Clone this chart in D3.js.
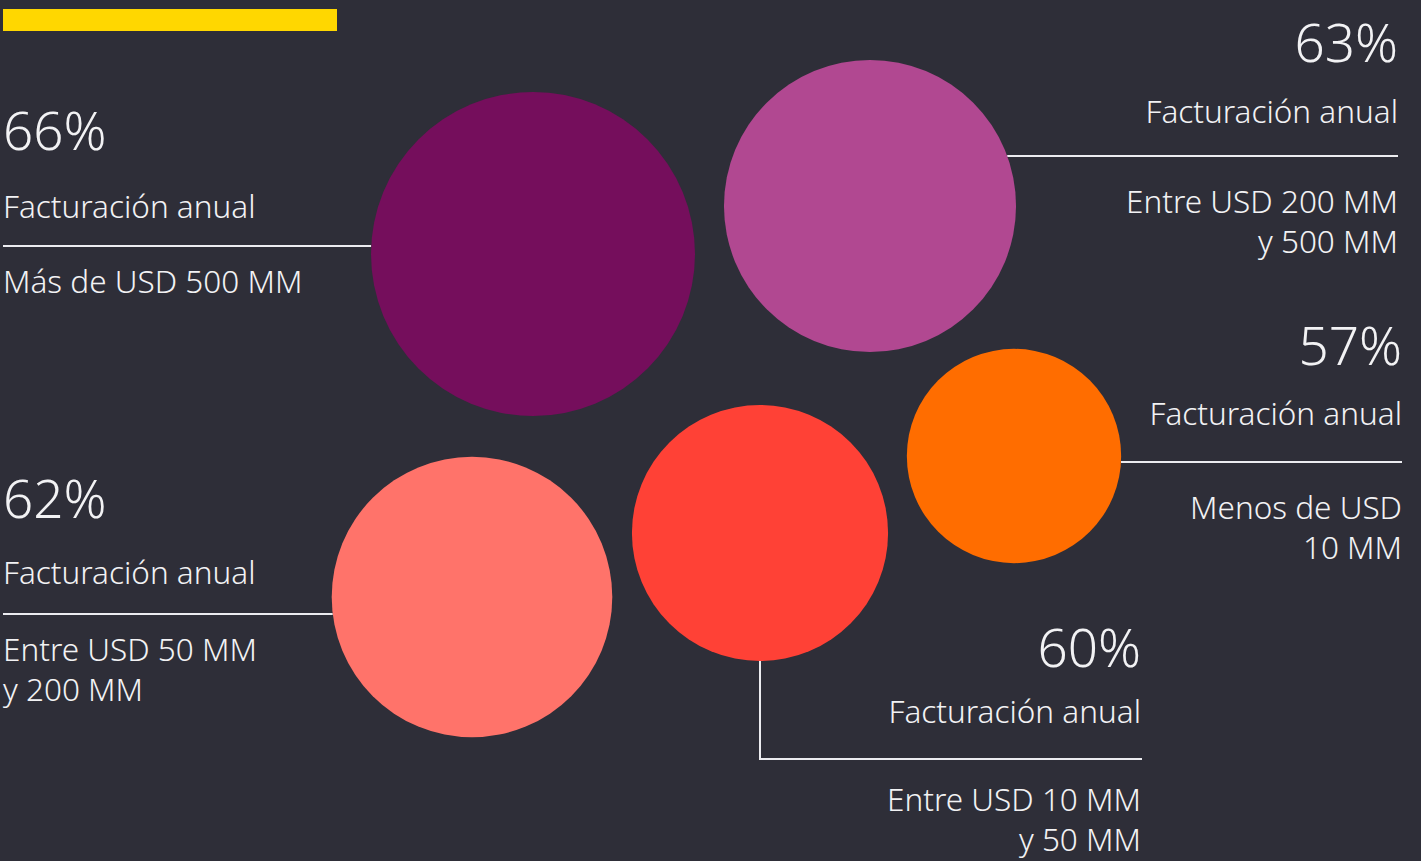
<!DOCTYPE html>
<html>
<head>
<meta charset="utf-8">
<script src="https://cdn.jsdelivr.net/npm/d3@7"></script>
<style>
  html, body { margin: 0; padding: 0; background: #2e2e38; overflow: hidden; }
  svg { display: block; }
  text { font-family: "Noto Sans", "Open Sans", sans-serif; fill: #f2f2f4; }
</style>
</head>
<body>
<svg id="chart" width="1421" height="861"></svg>
<script>
// Share of companies by annual revenue band
const shares   = [66, 63, 57, 62, 60];
const headings = ["Facturación anual", "Facturación anual", "Facturación anual", "Facturación anual", "Facturación anual"];
const bands    = [
  ["Más de USD 500 MM"],
  ["Entre USD 200 MM", "y 500 MM"],
  ["Menos de USD", "10 MM"],
  ["Entre USD 50 MM", "y 200 MM"],
  ["Entre USD 10 MM", "y 50 MM"]
];
const colors   = ["#750e5c", "#b14891", "#ff6d00", "#ff736a", "#ff4136"];

// Layout: bubble centres, callout rule and text anchoring for each band
const layout = [
  { cx: 533,  cy: 254, side: "left",  tx: 3,    ruleY: 246, pctY: 150, headY: 218, subY: 293 },
  { cx: 870,  cy: 206, side: "right", tx: 1398, ruleY: 156, pctY: 62,  headY: 123, subY: 213 },
  { cx: 1014, cy: 456, side: "right", tx: 1402, ruleY: 462, pctY: 365, headY: 425, subY: 519 },
  { cx: 472,  cy: 597, side: "left",  tx: 3,    ruleY: 614, pctY: 518, headY: 584, subY: 661 },
  { cx: 760,  cy: 533, side: "below", tx: 1141, ruleY: 759, pctY: 667, headY: 723, subY: 811 }
];

const data = shares.map((v, i) => ({
  value: v, heading: headings[i], band: bands[i], color: colors[i], pos: layout[i]
}));

const svg = d3.select("#chart");

// Bubble area proportional to share above a 50% baseline
const r = d3.scaleRadial().domain([50, 66]).range([0, 162]);

// Yellow accent bar
svg.append("rect").attr("x", 3).attr("y", 9).attr("width", 334).attr("height", 22).attr("fill", "#ffd700");

const lineColor = "#ececf0";

// Callout rules, from the bubble edge to the text column
data.forEach(d => {
  const p = d.pos, rad = r(d.value);
  let path;
  if (p.side === "left") {
    path = `M${p.tx},${p.ruleY}H${p.cx - Math.sqrt(rad * rad - (p.ruleY - p.cy) ** 2)}`;
  } else if (p.side === "right") {
    path = `M${p.cx + Math.sqrt(rad * rad - (p.ruleY - p.cy) ** 2)},${p.ruleY}H${p.tx}`;
  } else {
    path = `M${p.cx},${p.cy + rad}V${p.ruleY}H${p.tx + 1}`;
  }
  svg.append("path").attr("d", path).attr("fill", "none")
    .attr("stroke", lineColor).attr("stroke-width", 2);
});

// Bubbles
svg.selectAll("circle.bubble")
  .data(data)
  .join("circle")
  .attr("class", "bubble")
  .attr("cx", d => d.pos.cx)
  .attr("cy", d => d.pos.cy)
  .attr("r", d => r(d.value))
  .attr("fill", d => d.color);

// Labels
const fmt = v => d3.format("d")(v) + "%";
data.forEach(d => {
  const p = d.pos;
  const g = svg.append("g").attr("text-anchor", p.side === "left" ? "start" : "end")
    .attr("font-weight", 300);
  g.append("text").attr("x", p.tx).attr("y", p.pctY)
    .attr("font-size", 53).text(fmt(d.value));
  g.append("text").attr("x", p.tx).attr("y", p.headY)
    .attr("font-size", 31.5).text(d.heading);
  d.band.forEach((line, j) => {
    g.append("text").attr("x", p.tx).attr("y", p.subY + j * 40)
      .attr("font-size", 31.5).text(line);
  });
});
</script>
</body>
</html>
